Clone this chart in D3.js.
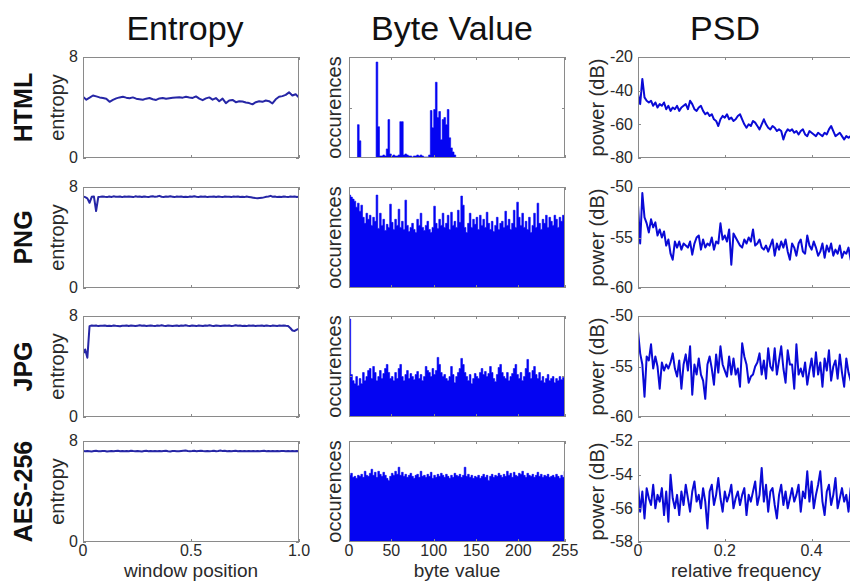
<!DOCTYPE html>
<html><head><meta charset="utf-8">
<script src="https://cdn.jsdelivr.net/npm/d3@7"></script>
<style>body{margin:0;background:#fff;} svg{display:block;font-family:"Liberation Sans",Arial,Helvetica,sans-serif;}</style>
</head><body><svg id="c" width="850" height="581"></svg>
<script>
// ---------------- data ----------------
const rowNames = ["HTML", "PNG", "JPG", "AES-256"];
const colTitles = ["Entropy", "Byte Value", "PSD"];
const colXLabels = ["window position", "byte value", "relative frequency"];
const colYLabels = ["entropy", "occurences", "power (dB)"];

// entropy along the file (window position 0..1, evenly spaced samples)
const entropyHTML = [4.85,4.62,4.78,4.95,4.88,4.80,4.76,4.70,4.45,4.60,4.72,4.80,4.85,4.78,4.74,4.80,4.70,4.66,4.62,4.70,4.75,4.65,4.60,4.72,4.76,4.70,4.74,4.78,4.80,4.82,4.78,4.85,4.80,4.76,4.88,4.70,4.58,4.72,4.80,4.62,4.75,4.50,4.70,4.35,4.55,4.60,4.42,4.50,4.48,4.40,4.35,4.25,4.42,4.50,4.45,4.55,4.50,4.32,4.65,4.85,4.90,5.00,5.20,4.95,5.05,4.78];
const entropyPNG = [7.25,7.20,7.10,6.75,7.22,7.25,6.10,7.20,7.22,7.25,7.22,7.20,7.24,7.21,7.26,7.23,7.22,7.25,7.20,7.24,7.22,7.25,7.23,7.20,7.26,7.22,7.24,7.21,7.25,7.22,7.20,7.24,7.27,7.22,7.25,7.30,7.23,7.21,7.24,7.22,7.26,7.23,7.20,7.24,7.22,7.25,7.21,7.23,7.20,7.24,7.22,7.26,7.23,7.21,7.24,7.22,7.25,7.20,7.23,7.22,7.24,7.21,7.25,7.22,7.20,7.24,7.22,7.23,7.20,7.24,7.22,7.25,7.21,7.23,7.20,7.24,7.21,7.18,7.15,7.12,7.10,7.12,7.14,7.18,7.22,7.25,7.30,7.22,7.24,7.20,7.23,7.21,7.25,7.22,7.20,7.24,7.22,7.25,7.21,7.23];
const entropyJPG = [5.00,5.35,4.70,7.20,7.25,7.22,7.24,7.20,7.23,7.22,7.25,7.21,7.23,7.20,7.24,7.22,7.21,7.19,7.23,7.22,7.25,7.21,7.24,7.22,7.20,7.23,7.26,7.22,7.24,7.21,7.23,7.25,7.22,7.20,7.24,7.22,7.27,7.23,7.21,7.24,7.22,7.20,7.23,7.25,7.21,7.24,7.22,7.26,7.23,7.21,7.24,7.22,7.20,7.25,7.23,7.21,7.24,7.22,7.26,7.23,7.21,7.24,7.22,7.20,7.23,7.25,7.22,7.24,7.21,7.23,7.26,7.22,7.24,7.21,7.23,7.20,7.24,7.22,7.25,7.21,7.23,7.22,7.24,7.21,7.25,7.22,7.20,7.24,7.23,7.21,7.24,7.22,7.25,7.22,7.20,7.05,6.85,6.82,6.92,7.00];
const entropyAES = [7.20,7.18,7.21,7.19,7.17,7.20,7.22,7.19,7.18,7.21,7.20,7.17,7.19,7.21,7.18,7.20,7.22,7.19,7.21,7.18,7.20,7.19,7.23,7.20,7.18,7.21,7.19,7.17,7.20,7.22,7.19,7.21,7.18,7.20,7.19,7.21,7.18,7.20,7.22,7.19,7.17,7.20,7.21,7.19,7.18,7.20,7.22,7.24,7.21,7.19,7.20,7.22,7.19,7.21,7.23,7.20,7.18,7.21,7.19,7.20,7.22,7.19,7.21,7.24,7.20,7.22,7.19,7.21,7.18,7.20,7.22,7.19,7.21,7.18,7.20,7.19,7.21,7.18,7.20,7.19,7.21,7.18,7.20,7.22,7.19,7.21,7.18,7.20,7.19,7.21,7.18,7.20,7.21,7.19,7.20,7.18,7.21,7.19,7.20,7.19];

// byte value histograms: 128 bins of 2 byte values each, relative occurrences
const byteHTML = [0,0,0,0,0,0.33,0.17,0,0,0,0,0,0,0,0,0,0.95,0.31,0.02,0.02,0.03,0.02,0.09,0.38,0.04,0.02,0.03,0.02,0.02,0.03,0.36,0.36,0.03,0.04,0.03,0.02,0.02,0.01,0.02,0.02,0.03,0.02,0.03,0.02,0.01,0.01,0.01,0.03,0.47,0.30,0.48,0.75,0.40,0.46,0.18,0.38,0.40,0.33,0.48,0.20,0.10,0.06,0.03,0,0,0,0,0,0,0,0,0,0,0,0,0,0,0,0,0,0,0,0,0,0,0,0,0,0,0,0,0,0,0,0,0,0,0,0,0,0,0,0,0,0,0,0,0,0,0,0,0,0,0,0,0,0,0,0,0,0,0,0,0,0,0,0,0];
const bytePNG = [0.92,0.90,0.88,0.86,0.80,0.84,0.76,0.82,0.70,0.64,0.74,0.68,0.72,0.62,0.70,0.66,0.92,0.59,0.74,0.62,0.68,0.57,0.63,0.60,0.83,0.65,0.58,0.68,0.62,0.78,0.60,0.66,0.58,0.87,0.62,0.56,0.60,0.64,0.58,0.55,0.68,0.62,0.74,0.60,0.57,0.62,0.66,0.58,0.55,0.60,0.81,0.64,0.59,0.68,0.62,0.74,0.60,0.64,0.72,0.58,0.75,0.62,0.66,0.60,0.77,0.65,0.91,0.82,0.60,0.55,0.64,0.74,0.60,0.68,0.63,0.70,0.58,0.72,0.62,0.68,0.60,0.75,0.64,0.58,0.66,0.56,0.62,0.70,0.58,0.64,0.66,0.60,0.76,0.62,0.68,0.58,0.64,0.77,0.60,0.85,0.70,0.62,0.74,0.60,0.66,0.58,0.70,0.55,0.62,0.74,0.60,0.84,0.64,0.58,0.68,0.64,0.72,0.60,0.70,0.66,0.62,0.72,0.68,0.60,0.70,0.66,0.72,0.65];
const byteJPG = [0.97,0.42,0.36,0.33,0.40,0.31,0.38,0.33,0.44,0.36,0.40,0.46,0.48,0.38,0.50,0.44,0.36,0.40,0.46,0.38,0.43,0.48,0.52,0.44,0.38,0.40,0.36,0.44,0.38,0.48,0.52,0.40,0.36,0.42,0.46,0.38,0.43,0.40,0.37,0.42,0.45,0.38,0.42,0.36,0.40,0.50,0.46,0.44,0.40,0.48,0.42,0.46,0.59,0.52,0.44,0.40,0.42,0.38,0.36,0.40,0.50,0.42,0.34,0.40,0.44,0.48,0.58,0.52,0.44,0.40,0.36,0.42,0.33,0.38,0.43,0.40,0.38,0.44,0.48,0.42,0.45,0.40,0.43,0.50,0.44,0.38,0.35,0.42,0.49,0.52,0.44,0.40,0.38,0.44,0.36,0.40,0.43,0.48,0.52,0.42,0.38,0.44,0.36,0.40,0.48,0.57,0.44,0.38,0.46,0.50,0.42,0.38,0.44,0.36,0.40,0.34,0.38,0.42,0.36,0.38,0.40,0.34,0.38,0.36,0.40,0.37,0.39,0.38];
const byteAES = [0.66,0.68,0.64,0.65,0.63,0.66,0.65,0.67,0.64,0.70,0.66,0.65,0.68,0.72,0.66,0.69,0.64,0.70,0.67,0.65,0.69,0.66,0.63,0.61,0.65,0.68,0.66,0.70,0.67,0.74,0.66,0.69,0.65,0.67,0.64,0.66,0.68,0.65,0.63,0.66,0.67,0.64,0.70,0.65,0.66,0.64,0.67,0.65,0.69,0.63,0.66,0.64,0.67,0.65,0.68,0.66,0.64,0.67,0.65,0.63,0.66,0.64,0.68,0.66,0.65,0.67,0.64,0.66,0.74,0.65,0.67,0.64,0.66,0.63,0.65,0.64,0.66,0.63,0.65,0.67,0.64,0.66,0.61,0.65,0.67,0.64,0.66,0.65,0.68,0.66,0.64,0.67,0.65,0.70,0.66,0.68,0.64,0.69,0.66,0.65,0.68,0.67,0.70,0.66,0.64,0.68,0.66,0.65,0.67,0.64,0.66,0.69,0.65,0.67,0.64,0.66,0.65,0.67,0.64,0.65,0.66,0.64,0.67,0.65,0.63,0.66,0.64,0.70];
const byteBinWidth = 2;

// power spectral density (dB), relative frequency 0..0.5 in steps of 0.005
const psdHTML = [-42,-48,-33,-44,-46,-47,-46,-49,-47,-50,-48,-49,-47,-51,-49,-52,-50,-51,-49,-52,-50,-49,-48,-51,-46,-48,-51,-52,-50,-49,-52,-54,-53,-55,-54,-57,-58,-61,-57,-55,-56,-54,-57,-56,-58,-57,-55,-54,-57,-60,-62,-60,-61,-58,-59,-61,-63,-60,-57,-60,-62,-63,-61,-62,-64,-63,-64,-69,-65,-63,-64,-63,-65,-64,-66,-64,-63,-66,-67,-64,-65,-66,-67,-65,-66,-67,-65,-66,-63,-61,-64,-67,-66,-65,-67,-69,-67,-68,-67,-69];
const psdPNG = [-51.8,-55.6,-50.6,-53.0,-53.6,-54.5,-53.2,-54.0,-53.5,-54.8,-54.2,-55.0,-54.4,-55.8,-55.2,-56.6,-57.2,-55.4,-56.0,-55.4,-56.2,-55.6,-55.8,-56.0,-55.4,-56.7,-55.6,-55.0,-54.8,-56.2,-55.2,-56.0,-55.6,-55.8,-55.0,-56.2,-55.4,-55.6,-53.6,-55.2,-54.8,-55.4,-54.2,-57.7,-54.6,-55.0,-55.4,-55.8,-56.0,-55.2,-55.6,-55.0,-55.4,-54.2,-55.8,-55.6,-55.2,-56.0,-56.2,-55.8,-56.4,-55.8,-55.2,-56.8,-55.6,-56.2,-55.4,-56.0,-55.2,-56.4,-57.2,-55.6,-56.0,-56.8,-55.6,-55.2,-56.4,-56.6,-54.8,-55.8,-56.2,-55.4,-56.0,-56.8,-56.4,-55.6,-57.0,-55.8,-56.4,-55.6,-56.8,-56.2,-56.6,-55.8,-57.0,-56.4,-56.6,-56.0,-57.2,-56.5];
const psdJPG = [-51.5,-53.7,-54.8,-58.0,-54.0,-54.4,-52.8,-55.2,-54.0,-55.0,-57.2,-54.6,-55.4,-54.8,-55.2,-54.6,-53.7,-55.2,-56.0,-54.4,-57.2,-54.8,-53.8,-55.4,-53.0,-57.8,-54.8,-55.8,-54.2,-55.8,-56.4,-58.2,-54.8,-54.0,-55.2,-56.8,-53.8,-55.6,-53.0,-54.8,-55.4,-56.0,-54.0,-55.8,-54.2,-55.8,-55.2,-57.0,-52.7,-54.0,-54.8,-56.6,-56.0,-55.8,-55.0,-54.6,-53.7,-55.8,-54.4,-56.2,-53.2,-55.0,-55.4,-53.2,-55.8,-54.4,-53.0,-55.2,-56.6,-53.4,-54.8,-54.8,-57.2,-52.8,-55.8,-55.2,-56.0,-54.6,-56.8,-55.4,-54.2,-56.0,-53.6,-55.8,-54.6,-57.0,-54.2,-55.4,-53.4,-56.4,-55.0,-54.4,-56.2,-53.8,-55.6,-57.0,-54.2,-55.6,-56.4,-54.8];
const psdAES = [-54.6,-56.2,-55.0,-56.6,-54.8,-55.4,-55.8,-54.6,-56.0,-55.2,-55.6,-54.8,-56.4,-55.0,-56.8,-54.0,-55.4,-56.0,-55.2,-56.4,-55.0,-55.8,-54.6,-55.4,-56.2,-55.0,-54.4,-55.6,-55.2,-56.0,-54.8,-55.6,-57.2,-55.0,-54.6,-55.8,-55.2,-54.2,-55.4,-56.2,-55.0,-55.6,-55.2,-54.6,-56.0,-55.4,-55.0,-55.8,-55.2,-54.8,-56.4,-55.2,-55.6,-55.0,-54.4,-55.8,-55.2,-53.6,-55.6,-54.6,-56.2,-55.0,-54.8,-55.8,-56.6,-55.2,-54.6,-55.8,-55.0,-56.0,-55.4,-54.8,-55.6,-55.2,-54.6,-56.2,-55.0,-55.4,-53.8,-55.6,-54.4,-56.0,-55.2,-54.6,-53.8,-55.6,-56.4,-55.0,-54.6,-55.8,-55.2,-54.2,-56.0,-55.4,-54.8,-55.6,-55.2,-56.2,-54.8,-55.0];
const psdStep = 0.005;

// axes / ticks
const entropyDomain = [0, 8];
const entropyTicksY = [0, 8];
const entropyTicksX = [0, 0.5, 1];
const entropyTickLabelsX = ["0", "0.5", "1.0"];
const byteDomain = [0, 255];
const byteTicksX = [0, 50, 100, 150, 200, 255];
const byteTicksY = [[0.5], [], [0.41], []];
const psdDomainX = [0, 0.5];
const psdTicksX = [0, 0.2, 0.4];
const psdDomainsY = [[-80, -20], [-60, -50], [-60, -50], [-58, -52]];
const psdTicksY = [[-80, -60, -40, -20], [-60, -55, -50], [-60, -55, -50], [-58, -56, -54, -52]];

const entropyRows = [entropyHTML, entropyPNG, entropyJPG, entropyAES];
const byteRows = [byteHTML, bytePNG, byteJPG, byteAES];
const psdRows = [psdHTML, psdPNG, psdJPG, psdAES];

// ---------------- layout ----------------
const colX = [83, 349, 638];
const colW = [216, 216, 217];
const rowY = [57, 187, 316, 441];
const rowH = 101;
const frameColor = "#8a8a8a";
const textColor = "#2a2a2a";
const lineEntropy = "#2626a6";
const linePSD = "#0a0ad6";
const barColor = "#0404f2";
const tickLen = 3;

const svg = d3.select("#c");
const defs = svg.append("defs");

// column titles
const titleX = [185, 452, 725];
colTitles.forEach((t, c) => {
  svg.append("text").attr("x", titleX[c]).attr("y", 40)
    .attr("text-anchor", "middle").attr("font-size", 34).attr("fill", "#111").text(t);
});

// row labels
rowNames.forEach((t, r) => {
  const cy = rowY[r] + rowH / 2;
  svg.append("text").attr("transform", `translate(32,${cy}) rotate(-90)`)
    .attr("text-anchor", "middle").attr("font-size", 25).attr("font-weight", "bold")
    .attr("fill", "#111").text(t);
});

function panel(r, c) {
  const x0 = colX[c], y0 = rowY[r], w = colW[c], h = rowH;
  const id = `clip${r}${c}`;
  defs.append("clipPath").attr("id", id).append("rect").attr("x", x0).attr("y", y0).attr("width", w).attr("height", h);
  const g = svg.append("g");
  const marks = g.append("g").attr("clip-path", `url(#${id})`);
  return { g, marks, x0, y0, w, h };
}

function frame(p, xs, ys, xScale, yScale) {
  const { g, x0, y0, w, h } = p;
  g.append("rect").attr("x", x0 + 0.5).attr("y", y0 + 0.5).attr("width", w - 1).attr("height", h - 1)
    .attr("fill", "none").attr("stroke", frameColor).attr("stroke-width", 1);
  xs.forEach(v => {
    const X = Math.round(xScale(v)) + 0.5;
    g.append("line").attr("x1", X).attr("x2", X).attr("y1", y0).attr("y2", y0 + tickLen).attr("stroke", frameColor);
    g.append("line").attr("x1", X).attr("x2", X).attr("y1", y0 + h).attr("y2", y0 + h - tickLen).attr("stroke", frameColor);
  });
  ys.forEach(v => {
    const Y = Math.round(yScale(v)) + 0.5;
    g.append("line").attr("x1", x0).attr("x2", x0 + tickLen).attr("y1", Y).attr("y2", Y).attr("stroke", frameColor);
    g.append("line").attr("x1", x0 + w).attr("x2", x0 + w - tickLen).attr("y1", Y).attr("y2", Y).attr("stroke", frameColor);
  });
}

function yLabel(c, r, text) {
  const baseX = [64, 341, 604][c];
  svg.append("text").attr("transform", `translate(${baseX},${rowY[r] + rowH / 2}) rotate(-90)`)
    .attr("text-anchor", "middle").attr("font-size", 20).attr("fill", textColor).text(text);
}

function yTickLabels(p, ticks, yScale, fmt) {
  ticks.forEach(v => {
    p.g.append("text").attr("x", p.x0 - 5).attr("y", yScale(v)).attr("dy", "0.34em")
      .attr("text-anchor", "end").attr("font-size", 16).attr("fill", textColor).text(fmt(v));
  });
}

function xTickLabels(p, ticks, xScale, labels) {
  ticks.forEach((v, i) => {
    p.g.append("text").attr("x", xScale(v)).attr("y", p.y0 + p.h + 13.5)
      .attr("text-anchor", "middle").attr("font-size", 16).attr("fill", textColor).text(labels[i]);
  });
}

const last = rowNames.length - 1;

for (let r = 0; r < rowNames.length; r++) {
  // ---- Entropy ----
  {
    const p = panel(r, 0);
    const data = entropyRows[r];
    const x = d3.scaleLinear().domain([0, 1]).range([p.x0, p.x0 + p.w]);
    const y = d3.scaleLinear().domain(entropyDomain).range([p.y0 + p.h, p.y0]);
    const line = d3.line().x((d, i) => x(i / (data.length - 1))).y(d => y(d));
    p.marks.append("path").datum(data).attr("d", line).attr("fill", "none")
      .attr("stroke", lineEntropy).attr("stroke-width", 2).attr("stroke-linejoin", "round");
    frame(p, entropyTicksX, entropyTicksY, x, y);
    yTickLabels(p, entropyTicksY, y, d => String(d));
    yLabel(0, r, colYLabels[0]);
    if (r === last) xTickLabels(p, entropyTicksX, x, entropyTickLabelsX);
  }
  // ---- Byte Value ----
  {
    const p = panel(r, 1);
    const data = byteRows[r].concat([byteRows[r][byteRows[r].length - 1]]);
    const x = d3.scaleLinear().domain(byteDomain).range([p.x0, p.x0 + p.w]);
    const y = d3.scaleLinear().domain([0, 1]).range([p.y0 + p.h, p.y0]);
    const area = d3.area()
      .x((d, i) => x(i * byteBinWidth))
      .y0(y(0)).y1(d => y(d))
      .curve(d3.curveStepAfter);
    p.marks.append("path").datum(data).attr("d", area)
      .attr("fill", barColor).attr("stroke", barColor).attr("stroke-width", 0.6);
    frame(p, byteTicksX, byteTicksY[r], x, y);
    yLabel(1, r, colYLabels[1]);
    if (r === last) xTickLabels(p, byteTicksX, x, byteTicksX.map(String));
  }
  // ---- PSD ----
  {
    const p = panel(r, 2);
    const data = psdRows[r];
    const x = d3.scaleLinear().domain(psdDomainX).range([p.x0, p.x0 + p.w]);
    const y = d3.scaleLinear().domain(psdDomainsY[r]).range([p.y0 + p.h, p.y0]);
    const line = d3.line().x((d, i) => x(i * psdStep)).y(d => y(d));
    p.marks.append("path").datum(data).attr("d", line).attr("fill", "none")
      .attr("stroke", linePSD).attr("stroke-width", 2).attr("stroke-linejoin", "round");
    frame(p, psdTicksX, psdTicksY[r], x, y);
    yTickLabels(p, psdTicksY[r], y, d => String(d));
    yLabel(2, r, colYLabels[2]);
    if (r === last) xTickLabels(p, psdTicksX, x, psdTicksX.map(String));
  }
}

// x-axis titles (bottom row)
const xTitleX = [191, 457, 746];
colXLabels.forEach((t, c) => {
  svg.append("text").attr("x", xTitleX[c]).attr("y", 576.5).attr("text-anchor", "middle")
    .attr("font-size", 19).attr("fill", textColor).text(t);
});
</script></body></html>
